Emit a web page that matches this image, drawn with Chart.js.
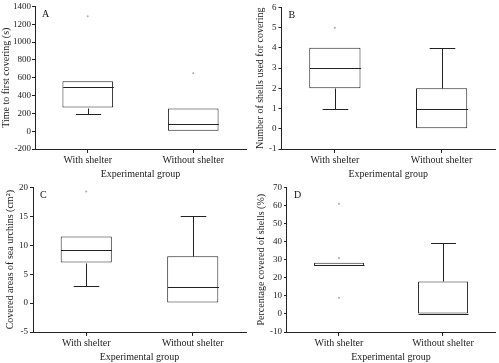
<!DOCTYPE html>
<html>
<head>
<meta charset="utf-8">
<script src="https://cdn.jsdelivr.net/npm/chart.js@4/dist/chart.umd.min.js"></script>
<style>
  body { margin: 0; background: #fff; }
  .wrap { position: relative; width: 499px; height: 363px; }
  .wrap canvas { position: absolute; }
</style>
</head>
<body>
<div class="wrap">
  <canvas id="chartA" width="250" height="180" style="left:0;top:0"></canvas>
  <canvas id="chartB" width="249" height="180" style="left:250px;top:0"></canvas>
  <canvas id="chartC" width="250" height="183" style="left:0;top:180px"></canvas>
  <canvas id="chartD" width="249" height="183" style="left:250px;top:180px"></canvas>
</div>
<script>
var groups = ['With shelter', 'Without shelter'];

// A - time to first covering
var timeLow = [190, 0];
var timeQ1 = [265, 0];
var timeMedian = [495, 80];
var timeQ3 = [560, 255];
var timeHigh = [560, 255];
var timeDots = [[1290], [650, 200]];

// B - number of shells
var shellsLow = [1, 0];
var shellsQ1 = [2, 0];
var shellsMedian = [3, 1];
var shellsQ3 = [4, 2];
var shellsHigh = [4, 4];
var shellsDots = [[5], [1.4]];

// C - covered areas
var areaLow = [3, 0];
var areaQ1 = [7, 0];
var areaMedian = [9.1, 2.8];
var areaQ3 = [11.5, 8.1];
var areaHigh = [11.5, 15];
var areaDots = [[19.3, 10], [5.2]];

// D - percentage covered
var pctLow = [26.5, 0];
var pctQ1 = [26.5, 0];
var pctMedian = [27.2, 0];
var pctQ3 = [28.3, 18];
var pctHigh = [28.3, 39.5];
var pctDots = [[61, 31, 9], [12.5]];

var serif = '"Liberation Serif", "Times New Roman", serif';

var boxLines = {
    id: 'boxLines',
    afterDatasetsDraw: function(chart) {
        var o = chart.options.plugins.boxLines;
        var ctx = chart.ctx;
        var x = chart.scales.x, y = chart.scales.y;
        var bars = chart.getDatasetMeta(0).data;
        ctx.save();
        ctx.strokeStyle = '#222';
        ctx.lineWidth = 1;
        for (var i = 0; i < groups.length; i++) {
            var cx = Math.round(x.getPixelForValue(i)) + 0.5;
            var w = bars[i].width;
            var yl = Math.round(y.getPixelForValue(o.low[i])) + 0.5;
            var y1 = Math.round(y.getPixelForValue(o.q1[i])) + 0.5;
            var ym = Math.round(y.getPixelForValue(o.med[i])) + 0.5;
            var y3 = Math.round(y.getPixelForValue(o.q3[i])) + 0.5;
            var yh = Math.round(y.getPixelForValue(o.high[i])) + 0.5;
            ctx.beginPath();
            ctx.moveTo(cx - w / 2, ym); ctx.lineTo(cx + w / 2, ym);
            if (o.low[i] < o.q1[i]) {
                ctx.moveTo(cx, y1); ctx.lineTo(cx, yl);
                ctx.moveTo(cx - w / 4, yl); ctx.lineTo(cx + w / 4, yl);
            }
            if (o.high[i] > o.q3[i]) {
                ctx.moveTo(cx, y3); ctx.lineTo(cx, yh);
                ctx.moveTo(cx - w / 4, yh); ctx.lineTo(cx + w / 4, yh);
            }
            ctx.stroke();
        }
        ctx.fillStyle = '#111';
        ctx.font = '10px ' + serif;
        ctx.textBaseline = 'top';
        ctx.fillText(o.letter, chart.chartArea.left + 7, chart.chartArea.top + 3);
        ctx.restore();
    }
};

function makePanel(id, letter, yTitle, min, max, step, low, q1, med, q3, high, dots, padLeft) {
    var pts = [];
    for (var i = 0; i < dots.length; i++) {
        for (var j = 0; j < dots[i].length; j++) {
            pts.push({ x: groups[i], y: dots[i][j] });
        }
    }
    var boxes = q1.map(function(v, i) { return [v, q3[i]]; });
    return new Chart(document.getElementById(id).getContext('2d'), {
        type: 'bar',
        data: {
            labels: groups,
            datasets: [{
                data: boxes,
                backgroundColor: '#fff',
                borderColor: '#222',
                borderWidth: 1,
                borderSkipped: false,
                barPercentage: 1,
                categoryPercentage: 0.48,
            }, {
                type: 'line',
                data: pts,
                showLine: false,
                pointRadius: 1,
                pointBackgroundColor: '#aaa',
                pointBorderColor: '#aaa',
                pointBorderWidth: 0,
            }],
        },
        options: {
            responsive: false,
            animation: false,
            layout: { padding: { top: 0, right: 2, left: padLeft, bottom: 0 } },
            plugins: {
                legend: { display: false },
                tooltip: { enabled: false },
                boxLines: { letter: letter, low: low, q1: q1, med: med, q3: q3, high: high },
            },
            scales: {
                x: {
                    grid: { drawOnChartArea: false, offset: false, tickLength: 4, color: '#222' },
                    border: { color: '#222' },
                    ticks: { color: '#222', font: { family: serif, size: 10 }, padding: 1, maxRotation: 0 },
                    title: { display: true, text: 'Experimental group', color: '#222', font: { family: serif, size: 10 }, padding: { top: 1, bottom: 0 } },
                },
                y: {
                    min: min,
                    max: max,
                    grid: { drawOnChartArea: false, tickLength: 3, color: '#222' },
                    border: { color: '#222' },
                    ticks: {
                        stepSize: step, color: '#222', font: { family: serif, size: 9 }, padding: padLeft ? 2 : 1,
                        callback: function(v) { return String(v); },
                    },
                    title: { display: true, text: yTitle, color: '#222', font: { family: serif, size: 10 }, padding: { top: 0, bottom: padLeft ? 1 : 0 } },
                },
            },
        },
        plugins: [boxLines],
    });
}

var chartA = makePanel('chartA', 'A', 'Time to first covering (s)', -200, 1400, 200,
    timeLow, timeQ1, timeMedian, timeQ3, timeHigh, timeDots, 0);
var chartB = makePanel('chartB', 'B', 'Number of shells used for covering', -1, 6, 1,
    shellsLow, shellsQ1, shellsMedian, shellsQ3, shellsHigh, shellsDots, 4);
var chartC = makePanel('chartC', 'C', 'Covered areas of sea urchins (cm\u00b2)', -5, 20, 5,
    areaLow, areaQ1, areaMedian, areaQ3, areaHigh, areaDots, 4);
var chartD = makePanel('chartD', 'D', 'Percentage covered of shells (%)', -10, 70, 10,
    pctLow, pctQ1, pctMedian, pctQ3, pctHigh, pctDots, 5);
</script>
</body>
</html>
